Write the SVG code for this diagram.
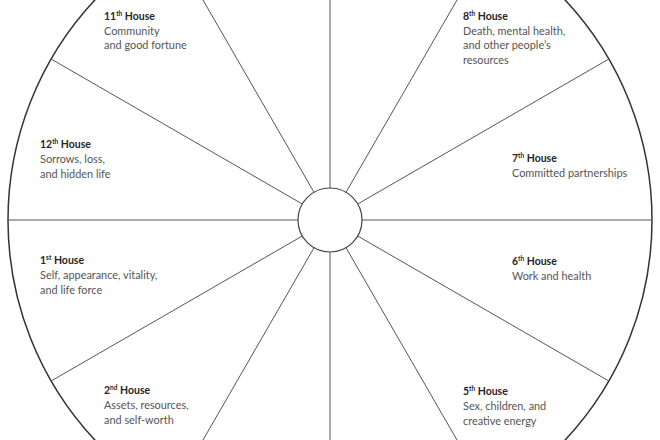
<svg xmlns="http://www.w3.org/2000/svg" width="660" height="440" viewBox="0 0 660 440">
<style>
.spoke{stroke:#555;stroke-width:1;fill:none}
.outer{stroke:#333;stroke-width:1.5;fill:none}
.inner{stroke:#444;stroke-width:1.2;fill:#fff}
text{font-family:Lato,"Open Sans","Liberation Sans",sans-serif}
.t{fill:#262626;font-weight:bold;font-size:10.5px}
.d{fill:#555;font-size:10.9px}
.sup{font-size:6.5px}
</style>
<rect width="660" height="440" fill="#fff"/>
<circle class="outer" cx="330" cy="220" r="322"/>
<g id="connectors">
<line class="spoke" x1="362" y1="220" x2="652" y2="220"/>
<line class="spoke" x1="357.71" y1="236" x2="608.86" y2="381"/>
<line class="spoke" x1="346" y1="247.71" x2="491" y2="498.86"/>
<line class="spoke" x1="330" y1="252" x2="330" y2="542"/>
<line class="spoke" x1="314" y1="247.71" x2="169" y2="498.86"/>
<line class="spoke" x1="302.29" y1="236" x2="51.14" y2="381"/>
<line class="spoke" x1="298" y1="220" x2="8" y2="220"/>
<line class="spoke" x1="302.29" y1="204" x2="51.14" y2="59"/>
<line class="spoke" x1="314" y1="192.29" x2="169" y2="-58.86"/>
<line class="spoke" x1="330" y1="188" x2="330" y2="-102"/>
<line class="spoke" x1="346" y1="192.29" x2="491" y2="-58.86"/>
<line class="spoke" x1="357.71" y1="204" x2="608.86" y2="59"/>
</g>
<g id="center"><circle class="inner" cx="330" cy="220" r="32"/></g>
<g id="house11">
<text class="t" x="104" y="20">11<tspan class="sup" dy="-4">th</tspan><tspan dy="4"> House</tspan></text>
<text class="d" x="104" y="34.5">Community</text>
<text class="d" x="104" y="49">and good fortune</text>
</g>
<g id="house8">
<text class="t" x="463" y="20">8<tspan class="sup" dy="-4">th</tspan><tspan dy="4"> House</tspan></text>
<text class="d" x="463" y="34.5">Death, mental health,</text>
<text class="d" x="463" y="49">and other people’s</text>
<text class="d" x="463" y="63.5">resources</text>
</g>
<g id="house12">
<text class="t" x="40" y="148">12<tspan class="sup" dy="-4">th</tspan><tspan dy="4"> House</tspan></text>
<text class="d" x="40" y="163">Sorrows, loss,</text>
<text class="d" x="40" y="178">and hidden life</text>
</g>
<g id="house7">
<text class="t" x="512" y="162">7<tspan class="sup" dy="-4">th</tspan><tspan dy="4"> House</tspan></text>
<text class="d" x="512" y="177">Committed partnerships</text>
</g>
<g id="house1">
<text class="t" x="40" y="264">1<tspan class="sup" dy="-4">st</tspan><tspan dy="4"> House</tspan></text>
<text class="d" x="40" y="279">Self, appearance, vitality,</text>
<text class="d" x="40" y="293.5">and life force</text>
</g>
<g id="house6">
<text class="t" x="512" y="265">6<tspan class="sup" dy="-4">th</tspan><tspan dy="4"> House</tspan></text>
<text class="d" x="512" y="279.5">Work and health</text>
</g>
<g id="house2">
<text class="t" x="104" y="394">2<tspan class="sup" dy="-4">nd</tspan><tspan dy="4"> House</tspan></text>
<text class="d" x="104" y="409">Assets, resources,</text>
<text class="d" x="104" y="424">and self-worth</text>
</g>
<g id="house5">
<text class="t" x="463" y="395">5<tspan class="sup" dy="-4">th</tspan><tspan dy="4"> House</tspan></text>
<text class="d" x="463" y="410">Sex, children, and</text>
<text class="d" x="463" y="424.5">creative energy</text>
</g>
</svg>
